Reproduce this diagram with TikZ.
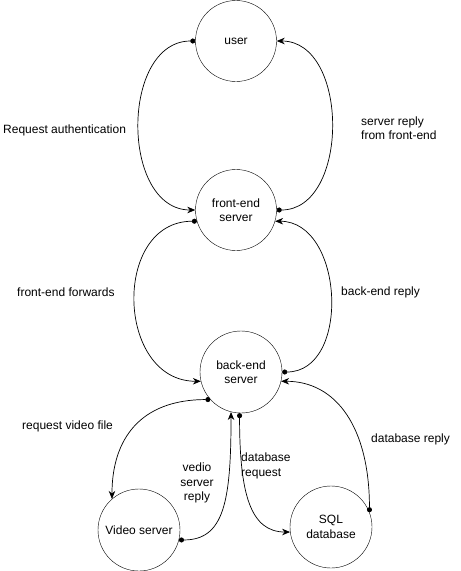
\documentclass[tikz,border=0pt]{standalone}
\usepackage{fontspec}
\setmainfont{Liberation Sans}
\usetikzlibrary{arrows.meta}
\begin{document}
\begin{tikzpicture}[x=1pt,y=-1pt,
  state/.style={draw,circle,inner sep=0pt,minimum size=81pt,align=center,font=\fontsize{12}{14.5}\selectfont},
  lbl/.style={inner sep=0pt,align=left,font=\fontsize{12}{14.5}\selectfont},
  conn/.style={draw,line width=0.7pt,{Circle[length=5pt]}-{Stealth[length=8pt,width=6.5pt]}}]
\useasboundingbox (0,0) rectangle (461,571);
\node[state] (user) at (236,41) {user};
\node[state] (fe) at (236,210) {front-end\\server};
\node[state,minimum size=82pt] (be) at (241,372) {back-end\\server};
\node[state,minimum size=82pt] (vs) at (139,530) {Video server};
\node[state,minimum size=82pt] (sql) at (331,527) {SQL\\database};

\path[conn] (user.west) .. controls +(-75,0) and +(-75,0) .. (fe.west);
\path[conn] (fe.east) .. controls +(73,0) and +(73,0) .. (user.east);
\path[conn] (fe.196) .. controls +(-85,0) and +(-85,0) .. (be.193);
\path[conn] (be.east) .. controls +(69,0) and +(69,0) .. (fe.-16);
\path[conn] (be.222) .. controls +(-70,0) and +(0,-60) .. (vs.131);
\path[conn] (vs.-14) .. controls +(45,0) and +(0,90) .. (be.256);
\path[conn] (be.268) .. controls +(0,80) and +(-40,0) .. (sql.187);
\path[conn] (sql.21) .. controls +(0,-85) and +(55,0) .. (be.-13);

\node[lbl,anchor=west] (l1) at (3,130) {Request authentication};
\node[lbl,anchor=west] (l2) at (361,128) {server reply\\from front-end};
\node[lbl,anchor=west] (l3) at (17,292) {front-end forwards};
\node[lbl,anchor=west] (l4) at (341,292) {back-end reply};
\node[lbl,anchor=west] (l5) at (22,426) {request video file};
\node[lbl,anchor=west] (l6) at (371,439) {database reply};
\node[lbl,align=center] (l7) at (197,483) {vedio\\server\\reply};
\node[lbl,anchor=west] (l8) at (241,466) {database\\request};
\end{tikzpicture}
\end{document}
